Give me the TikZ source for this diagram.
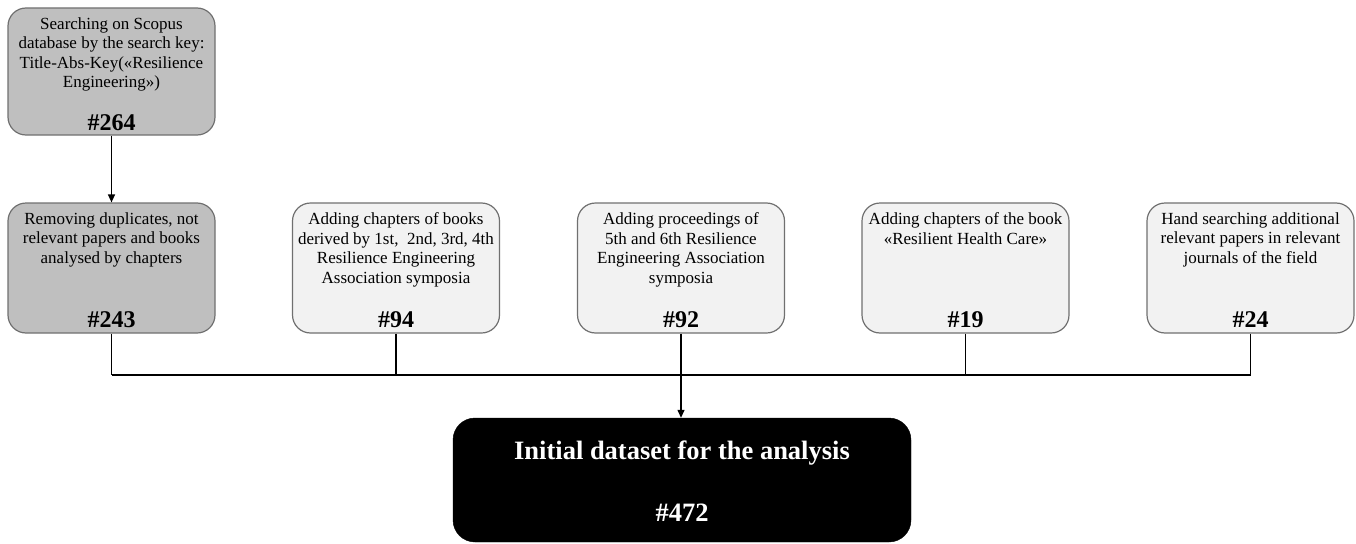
\documentclass[tikz,border=0pt]{standalone}
\usepackage{fontspec}
\setmainfont{Liberation Serif}
\usetikzlibrary{arrows.meta}
\definecolor{boxdark}{RGB}{191,191,191}
\definecolor{boxlight}{RGB}{242,242,242}
\definecolor{edgegray}{RGB}{112,112,112}
\begin{document}
\begin{tikzpicture}[x=1pt,y=-1pt,
  stagebox/.style={draw=edgegray, line width=1.2pt, rounded corners=18pt,
    minimum width=207pt, minimum height=130pt, inner sep=0pt},
  darkbox/.style={stagebox, fill=boxdark},
  lightbox/.style={stagebox, fill=boxlight},
  desc/.style={font=\fontsize{17}{19.5}\selectfont, align=center,
    anchor=north, inner sep=0pt},
  count/.style={font=\fontsize{24}{26}\selectfont\bfseries, anchor=base, inner sep=0pt},
  result/.style={font=\fontsize{26.5}{30}\selectfont\bfseries, text=white,
    anchor=base, inner sep=0pt},
  link/.style={line width=1.3pt, black},
  arr/.style={link, -{Triangle[length=8pt,width=7pt]}}]
\useasboundingbox (0,0) rectangle (1356,543);

% first search stage
\node[darkbox, minimum height=127pt] (scopus) at (111.5,71.5) {};
\node[desc] (scopustxt) at ([yshift=-10pt]scopus.north)
  {Searching on Scopus\\database by the search key:\\Title-Abs-Key(«Resilience\\Engineering»)};
\node[count] (scopusnum) at ([yshift=5pt]scopus.south) {\#264};

% second row of stages
\node[darkbox] (removing) at (111.5,268) {};
\node[desc] (removingtxt) at ([yshift=-10pt]removing.north)
  {Removing duplicates, not\\relevant papers and books\\analysed by chapters};
\node[count] (removingnum) at ([yshift=6pt]removing.south) {\#243};

\node[lightbox] (symposia) at (396,268) {};
\node[desc] (symposiatxt) at ([yshift=-10pt]symposia.north)
  {Adding chapters of books\\derived by 1st,\ \ 2nd, 3rd, 4th\\Resilience Engineering\\Association symposia};
\node[count] (symposianum) at ([yshift=6pt]symposia.south) {\#94};

\node[lightbox] (proceedings) at (681,268) {};
\node[desc] (proceedingstxt) at ([yshift=-10pt]proceedings.north)
  {Adding proceedings of\\5th and 6th Resilience\\Engineering Association\\symposia};
\node[count] (proceedingsnum) at ([yshift=6pt]proceedings.south) {\#92};

\node[lightbox] (healthcare) at (965.5,268) {};
\node[desc] (healthcaretxt) at ([yshift=-10pt]healthcare.north)
  {Adding chapters of the book\\«Resilient Health Care»};
\node[count] (healthcarenum) at ([yshift=6pt]healthcare.south) {\#19};

\node[lightbox] (journals) at (1250.5,268) {};
\node[desc] (journalstxt) at ([yshift=-10pt]journals.north)
  {Hand searching additional\\relevant papers in relevant\\journals of the field};
\node[count] (journalsnum) at ([yshift=6pt]journals.south) {\#24};

% final dataset
\node[fill=black, draw=black, rounded corners=22pt, minimum width=458pt,
  minimum height=124pt, inner sep=0pt] (dataset) at (682,480) {};
\node[result] (datasettxt) at (682,459) {Initial dataset for the analysis};
\node[result] (datasetnum) at (682,521) {\#472};

% connectors
\coordinate (bus) at (0,375);
\draw[arr] (scopus.south) -- (removing.north);
\foreach \b in {removing,symposia,proceedings,healthcare,journals}
  \draw[link] (\b.south) -- (\b.south |- bus);
\draw[link] (removing.south |- bus) -- (journals.south |- bus);
\draw[arr] (proceedings.south |- bus) -- (proceedings.south |- dataset.north);
\end{tikzpicture}
\end{document}
